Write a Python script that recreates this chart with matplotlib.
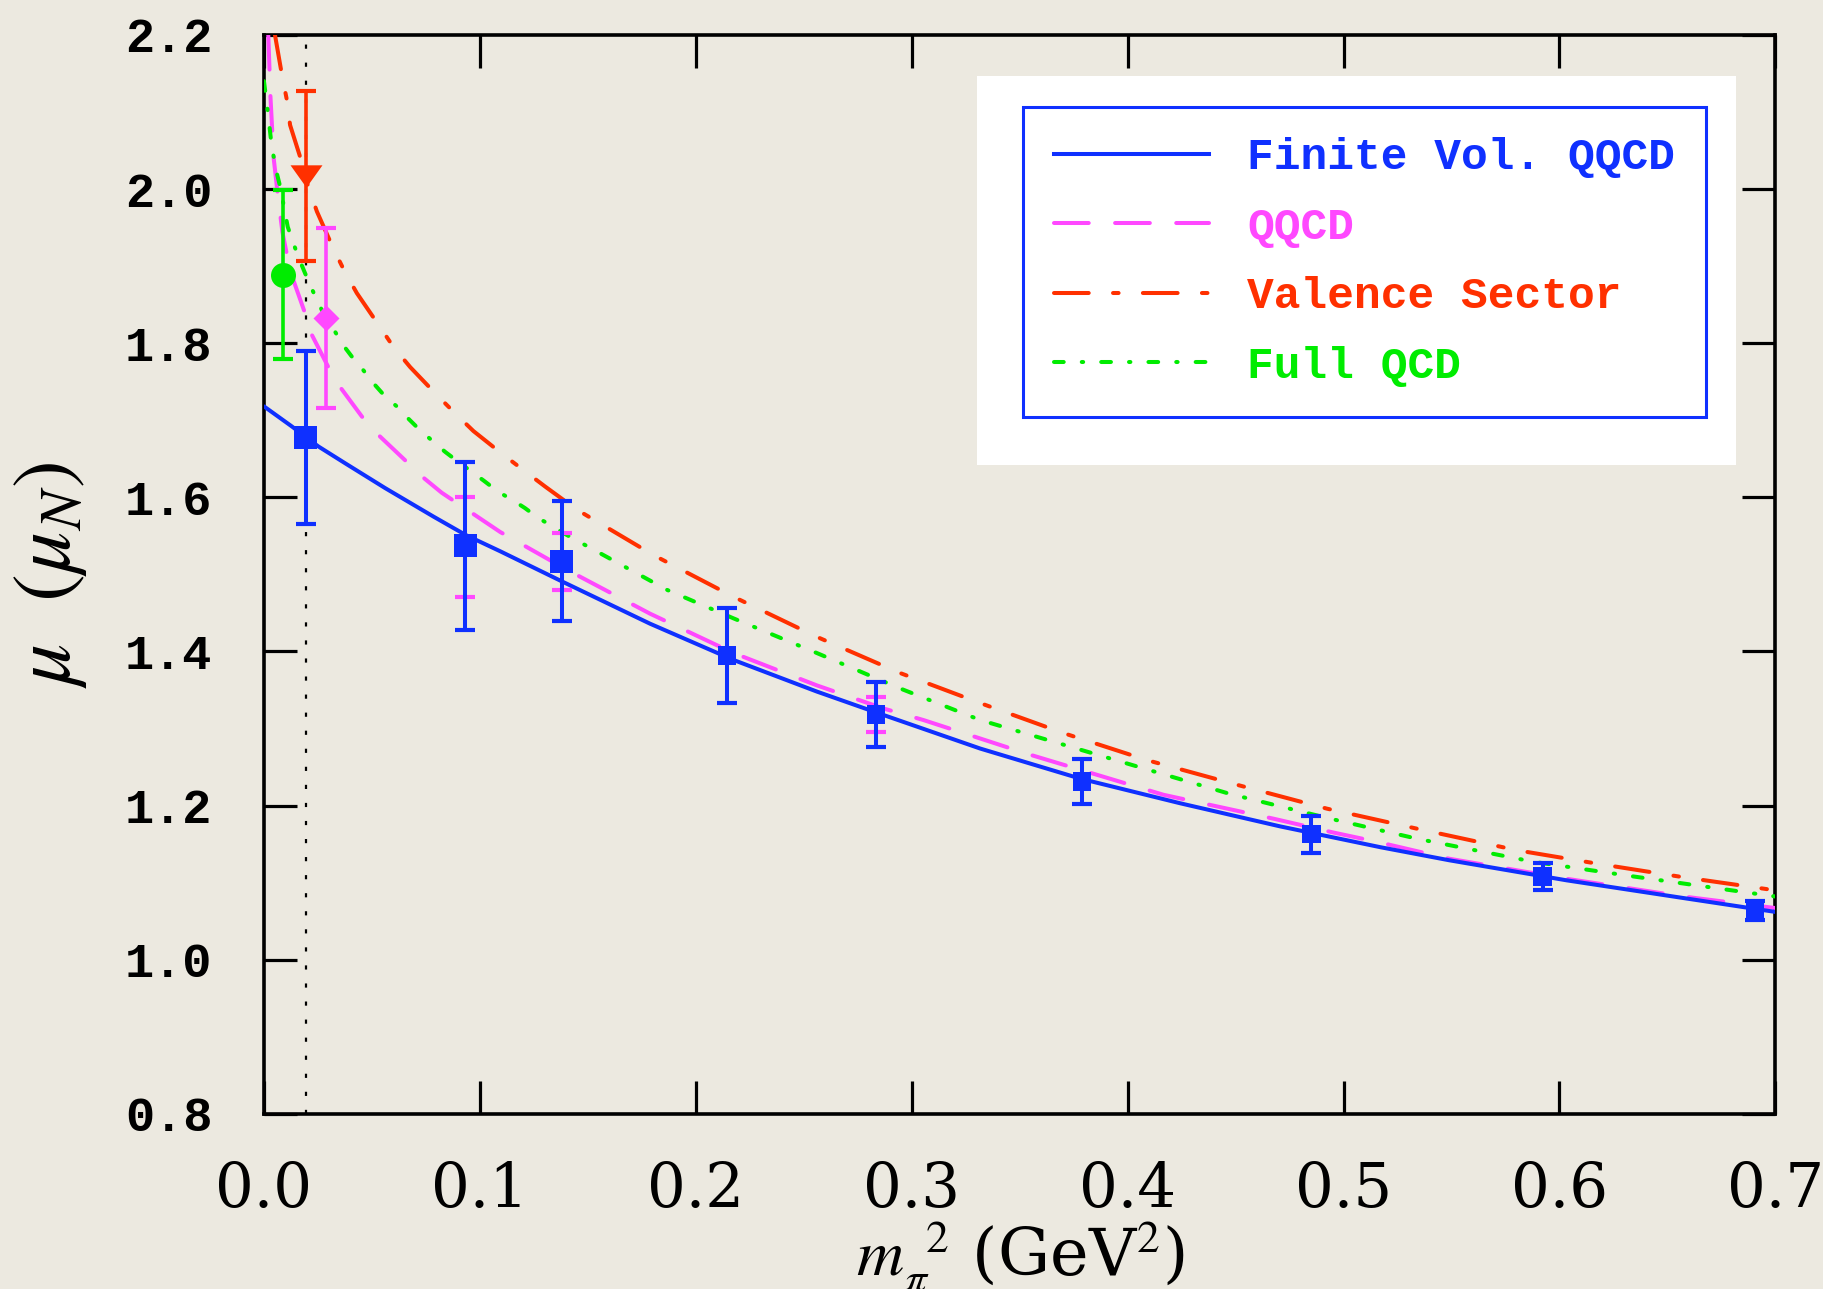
import matplotlib
matplotlib.use("Agg")
import matplotlib.pyplot as plt
import matplotlib.patches as mpatches
from matplotlib.lines import Line2D
from matplotlib.font_manager import FontProperties

plt.rcParams['lines.scale_dashes'] = False
plt.rcParams['mathtext.fontset'] = 'stix'

# --- lattice results (finite volume QQCD), blue squares ---
m2_lat = [0.0194, 0.0932, 0.1379, 0.2144, 0.2834, 0.3788, 0.4850, 0.5923, 0.6906]
mu_lat = [1.678, 1.537, 1.517, 1.395, 1.318, 1.231, 1.163, 1.108, 1.064]
err_lat = [0.112, 0.109, 0.078, 0.062, 0.042, 0.029, 0.024, 0.018, 0.012]

# smaller magenta error bars behind some lattice points
m2_stat = [0.0932, 0.1379, 0.2834]
mu_stat = [1.535, 1.517, 1.318]
err_stat = [0.065, 0.037, 0.023]

# extrapolated values near the physical point
m2_full, mu_full, err_full = [0.0090], [1.889], [0.110]
m2_val, mu_val, err_val = [0.0194], [2.017], [0.110]
m2_qq, mu_qq, err_qq = [0.0288], [1.833], [0.117]
m2_phys = 0.0194

# --- chiral curves ---
fv_x = [0.0, 0.0129, 0.0252, 0.0377, 0.0561, 0.0785, 0.0935, 0.1094, 0.1379, 0.1788,
        0.2174, 0.256, 0.2854, 0.3317, 0.378, 0.4243, 0.4706, 0.517, 0.549, 0.6033,
        0.6574, 0.7]
fv_y = [1.718, 1.692, 1.666, 1.644, 1.612, 1.575, 1.551, 1.530, 1.491, 1.436,
        1.389, 1.348, 1.319, 1.274, 1.235, 1.203, 1.173, 1.146, 1.129, 1.103,
        1.080, 1.062]

qq_x = [0.0020, 0.0030, 0.0045, 0.0065, 0.0085, 0.0106, 0.0136, 0.0190, 0.0214, 0.0298,
        0.0345, 0.0453, 0.0522, 0.0654, 0.0723, 0.0823, 0.1094, 0.1403, 0.1788, 0.2174,
        0.2560, 0.2869, 0.3054, 0.3548, 0.4166, 0.4675, 0.4953, 0.5154, 0.5490, 0.6033,
        0.6574, 0.7000]
qq_y = [2.200, 2.120, 2.040, 1.990, 1.945, 1.915, 1.882, 1.839, 1.815, 1.769,
        1.746, 1.705, 1.683, 1.648, 1.629, 1.606, 1.555, 1.506, 1.449, 1.398,
        1.356, 1.326, 1.311, 1.266, 1.214, 1.183, 1.165, 1.153, 1.131, 1.105,
        1.082, 1.067]

val_x = [0.0051, 0.0082, 0.0105, 0.0121, 0.0175, 0.0202, 0.0245, 0.0321, 0.0372, 0.0430,
         0.0530, 0.0600, 0.0677, 0.0800, 0.0885, 0.0970, 0.1109, 0.1302, 0.1449, 0.1804,
         0.2174, 0.2560, 0.2946, 0.3317, 0.3703, 0.4089, 0.4506, 0.4923, 0.5340, 0.5803,
         0.6188, 0.6574, 0.7000]
val_y = [2.200, 2.150, 2.117, 2.083, 2.035, 2.006, 1.971, 1.923, 1.894, 1.865,
         1.824, 1.795, 1.769, 1.733, 1.709, 1.686, 1.655, 1.614, 1.584, 1.525,
         1.471, 1.419, 1.372, 1.333, 1.294, 1.259, 1.227, 1.196, 1.170, 1.142,
         1.124, 1.107, 1.090]

full_x = [0.0, 0.0018, 0.0036, 0.0060, 0.0075, 0.0110, 0.0136, 0.0159, 0.0190, 0.0221,
          0.0252, 0.0291, 0.0329, 0.0368, 0.0414, 0.0460, 0.0507, 0.0561, 0.0615, 0.0669,
          0.0723, 0.0777, 0.0839, 0.0900, 0.0963, 0.1016, 0.1086, 0.1148, 0.1209, 0.1271,
          0.1333, 0.1403, 0.1866, 0.2174, 0.2560, 0.2946, 0.3317, 0.3703, 0.4089, 0.4475,
          0.4923, 0.5340, 0.5880, 0.6343, 0.7000]
full_y = [2.140, 2.100, 2.055, 2.020, 2.003, 1.951, 1.930, 1.912, 1.891, 1.871,
          1.852, 1.830, 1.815, 1.797, 1.780, 1.765, 1.748, 1.731, 1.718, 1.702,
          1.687, 1.674, 1.659, 1.646, 1.633, 1.622, 1.607, 1.597, 1.586, 1.573,
          1.563, 1.551, 1.480, 1.443, 1.398, 1.352, 1.311, 1.279, 1.247, 1.215,
          1.184, 1.157, 1.127, 1.108, 1.082]

labels = ['Finite Vol. QQCD', 'QQCD', 'Valence Sector', 'Full QCD']
xtick_vals = [0.0, 0.1, 0.2, 0.3, 0.4, 0.5, 0.6, 0.7]
xtick_labels = ['0.0', '0.1', '0.2', '0.3', '0.4', '0.5', '0.6', '0.7']
ytick_vals = [0.8, 1.0, 1.2, 1.4, 1.6, 1.8, 2.0, 2.2]
ytick_labels = ['0.8', '1.0', '1.2', '1.4', '1.6', '1.8', '2.0', '2.2']

# colours / styles
bg = '#ece9e0'
blue = '#0f30ff'
magenta = '#ff48ff'
red = '#ff3000'
green = '#00ec00'
lw = 2.9
dash_qq = (25, 19)
dash_val = (25, 17.5, 4, 17.5)
dash_full = (7, 13, 1, 13)
square_sizes = [16.5, 16.5, 16.5, 13.5, 13.5, 13.5, 13.5, 13.5, 13.5]

fig = plt.figure(figsize=(18.23, 12.89), dpi=100, facecolor=bg)
ax = fig.add_axes([0.1448, 0.1359, 0.8291, 0.837])
ax.set_facecolor(bg)

ax.axvline(m2_phys, color='black', lw=1.6, dashes=(3, 10), zorder=1)

ax.plot(fv_x, fv_y, color=blue, lw=lw, solid_capstyle='round', solid_joinstyle='round', zorder=4)
ax.plot(qq_x, qq_y, color=magenta, lw=lw, dashes=dash_qq, dash_capstyle='round', zorder=3)
ax.plot(val_x, val_y, color=red, lw=lw, dashes=dash_val, dash_capstyle='round', zorder=3)
ax.plot(full_x, full_y, color=green, lw=lw, dashes=dash_full, dash_capstyle='round', zorder=3)

# magenta error bars behind the blue points
ax.errorbar(m2_stat, mu_stat, yerr=err_stat, fmt='none', ecolor=magenta,
            elinewidth=2.6, capsize=7, capthick=3, zorder=4)
ax.errorbar(m2_lat, mu_lat, yerr=err_lat, fmt='none', ecolor=blue,
            elinewidth=2.9, capsize=7.5, capthick=3, zorder=5)
ax.scatter(m2_lat, mu_lat, marker='s', s=[m ** 2 for m in square_sizes],
           color=blue, edgecolors='none', zorder=6)

# physical-point extrapolations
ax.errorbar(m2_full, mu_full, yerr=err_full, fmt='o', ms=18, color=green, mec='none',
            elinewidth=2.6, capsize=7.5, capthick=3, zorder=6)
tri = [(-1, 0.7), (1, 0.7), (0, -0.7)]
ax.errorbar(m2_val, mu_val, yerr=err_val, fmt='none', ecolor=red,
            elinewidth=2.6, capsize=7.5, capthick=3, zorder=6)
ax.plot(m2_val, mu_val, linestyle='none', marker=tri, ms=23, color=red, mec='none', zorder=7)
ax.errorbar(m2_qq, mu_qq, yerr=err_qq, fmt='D', ms=13, color=magenta, mec='none',
            elinewidth=2.6, capsize=7.5, capthick=3, zorder=6)

ax.set_xlim(0.0, 0.7)
ax.set_ylim(0.8, 2.2)

ax.set_xticks(xtick_vals)
ax.set_xticklabels(xtick_labels, fontfamily='DejaVu Serif', fontsize=44)
ax.set_yticks(ytick_vals)
ax.set_yticklabels(ytick_labels, fontfamily='Liberation Mono', fontweight='bold', fontsize=35)
ax.tick_params(direction='in', length=24, width=2.3, top=True, right=True, colors='black')
ax.tick_params(axis='x', pad=33)
ax.tick_params(axis='y', pad=37)
for s in ax.spines.values():
    s.set_linewidth(2.6)

ax.set_ylabel(r'$\mu\ \ (\mu_N)$', fontsize=60, labelpad=26)
ax.set_xlabel(r'$m_\pi^{\;\;2}$ (GeV$^2$)', fontsize=47, fontfamily='DejaVu Serif', labelpad=0)

# white panel behind the legend
ax.add_patch(mpatches.Rectangle((0.4716, 0.6013), 0.5023, 0.361, transform=ax.transAxes,
                                facecolor='white', edgecolor='none', zorder=9))

handles = [
    Line2D([], [], color=blue, lw=lw),
    Line2D([], [], color=magenta, lw=lw, dashes=dash_qq, dash_capstyle='round'),
    Line2D([], [], color=red, lw=lw, dashes=dash_val, dash_capstyle='round'),
    Line2D([], [], color=green, lw=lw, dashes=dash_full, dash_capstyle='round'),
]
leg = ax.legend(handles, labels, loc='upper left', bbox_to_anchor=(0.5025, 0.9332),
                borderaxespad=0, prop=FontProperties(family='Liberation Mono', weight='bold', size=32),
                handlelength=3.5, handletextpad=0.86, borderpad=0.68, labelspacing=0.64,
                frameon=True, fancybox=False, edgecolor=blue, facecolor='white', framealpha=1)
leg.get_frame().set_linewidth(2.2)
leg.set_zorder(11)
for t, c in zip(leg.get_texts(), [blue, magenta, red, green]):
    t.set_color(c)

fig.savefig('out.png', dpi=100, facecolor=bg)
